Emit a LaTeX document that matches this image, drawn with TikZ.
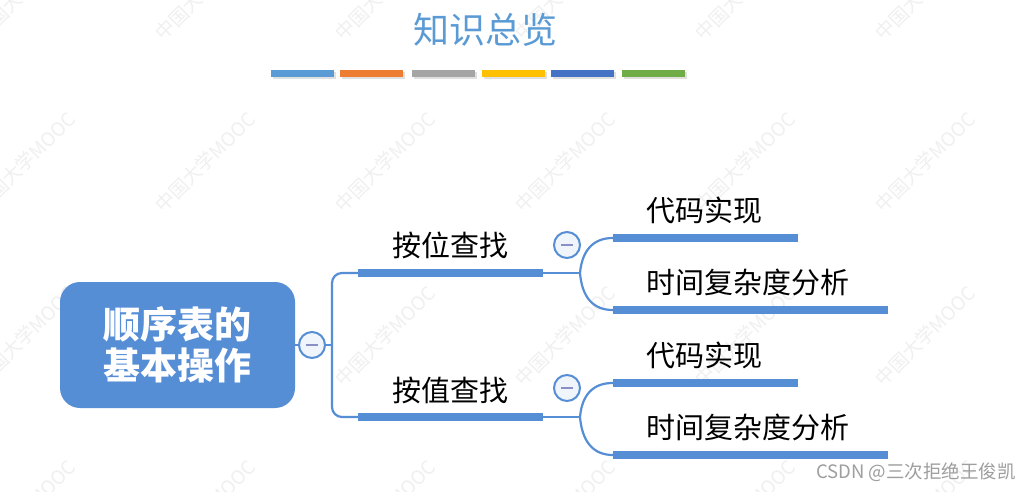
\documentclass[tikz,border=0pt]{standalone}
\usepackage{fontspec}
\newfontfamily\cjk{Noto Sans CJK SC}
\definecolor{mblue}{RGB}{86,142,214}
\definecolor{tblue}{RGB}{91,155,213}
\definecolor{tfill}{RGB}{240,244,251}
\definecolor{minuscol}{RGB}{138,143,198}
\definecolor{cA}{RGB}{91,155,213}
\definecolor{cB}{RGB}{237,125,49}
\definecolor{cC}{RGB}{165,165,165}
\definecolor{cD}{RGB}{255,192,0}
\definecolor{cE}{RGB}{68,114,196}
\definecolor{cF}{RGB}{112,173,71}
\tikzset{
  wm/.style={rotate=45, text=black!6, font=\cjk\fontsize{19}{19}\selectfont, inner sep=0},
  titlenode/.style={text=tblue, font=\cjk\fontsize{36}{40}\selectfont, inner sep=0},
  colorbar/.style={minimum width=63, minimum height=7, inner sep=0, draw=none},
  mainbox/.style={rounded corners=20, fill=mblue, minimum width=235, minimum height=126, inner sep=0,
    text=white, align=center, font=\cjk\bfseries\fontsize{37}{41}\selectfont},
  toggle/.style={circle, draw=mblue, line width=2, fill=tfill, minimum size=26, inner sep=0},
  minusmark/.style={draw=minuscol, line width=2.5},
  conn/.style={draw=mblue, line width=2.2},
  barnode/.style={fill=mblue, minimum height=8, inner sep=0, draw=none},
  lbl/.style={text=black, font=\cjk\fontsize{29}{33}\selectfont, inner sep=0},
  credit/.style={text=black!38, font=\cjk\fontsize{18.5}{20}\selectfont, inner sep=0}
}
\begin{document}
\begin{tikzpicture}[x=1pt,y=-1pt]
\useasboundingbox (0,0) rectangle (1021,492);
\fill[white] (0,0) rectangle (1021,492);
% watermarks
\foreach \cx in {25,205,385,565,745,925}
  \foreach \cy in {-10,162,336,510}
    \node[wm] at (\cx,\cy) {中国大学MOOC};
% title
\node[titlenode] (title) at (485,30) {知识总览};
% colour bars
\foreach \xa/\col [count=\i] in {271/cA,340/cB,412/cC,482/cD,551/cE,622/cF}{
  \fill[black!12] (\xa+1.5,72) rectangle (\xa+64.5,79);
  \node[colorbar, fill=\col, anchor=north west] (cb\i) at (\xa,70) {};
}
% root
\node[mainbox] (root) at (177.5,345) {顺序表的\\基本操作};
\node[toggle] (t0) at (312,345) {};
\draw[minusmark] ([xshift=-6pt]t0.center) -- ([xshift=6pt]t0.center);
\coordinate (j0) at (332,345);
\draw[conn] (root.east) -- (t0.west);
\draw[conn] (t0.east) -- (j0);
% first-level bars
\node[barnode, minimum width=185] (b1) at (450.5,273) {};
\node[barnode, minimum width=185] (b2) at (450.5,417) {};
\draw[conn, rounded corners=10] (b1.west) -| (j0);
\draw[conn, rounded corners=10] (b2.west) -| (j0);
\node[lbl] (l1) at (450,245) {按位查找};
\node[lbl] (l2) at (450,390) {按值查找};
% branch points
\coordinate (k1) at (580,273);
\coordinate (k2) at (580,417);
\draw[conn] (b1.east) -- (k1);
\draw[conn] (b2.east) -- (k2);
\node[toggle] (t1) at (567,245) {};
\draw[minusmark] ([xshift=-6pt]t1.center) -- ([xshift=6pt]t1.center);
\node[toggle] (t2) at (567,388) {};
\draw[minusmark] ([xshift=-6pt]t2.center) -- ([xshift=6pt]t2.center);
% second-level bars
\node[barnode, minimum width=185] (c11) at (705.5,238) {};
\node[barnode, minimum width=275] (c12) at (750.5,310) {};
\node[barnode, minimum width=185] (c21) at (705.5,383) {};
\node[barnode, minimum width=275] (c22) at (750.5,455) {};
\draw[conn] (k1) .. controls +(2,-22) and +(-20,0) .. (c11.west);
\draw[conn] (k1) .. controls +(2,24) and +(-20,0) .. (c12.west);
\draw[conn] (k2) .. controls +(2,-22) and +(-20,0) .. (c21.west);
\draw[conn] (k2) .. controls +(2,24) and +(-20,0) .. (c22.west);
\node[lbl, anchor=west] (d11) at (646,210) {代码实现};
\node[lbl, anchor=west] (d12) at (646,282) {时间复杂度分析};
\node[lbl, anchor=west] (d21) at (646,355) {代码实现};
\node[lbl, anchor=west] (d22) at (646,427) {时间复杂度分析};
% credit
\node[credit, anchor=east] (csdn) at (1016,472) {CSDN @三次拒绝王俊凯};
\end{tikzpicture}
\end{document}
